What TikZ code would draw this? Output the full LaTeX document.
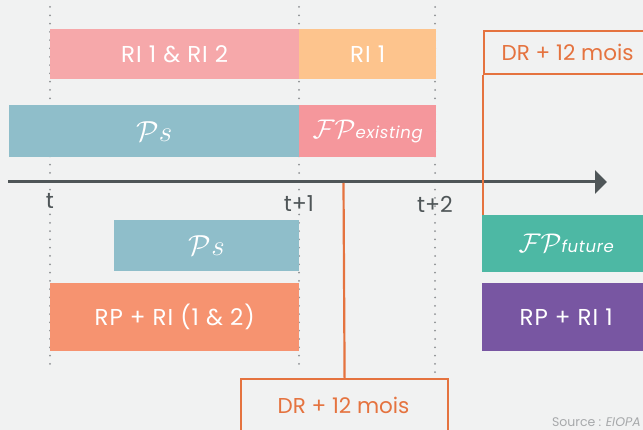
\documentclass[tikz,border=0pt]{standalone}
\usepackage{fix-cm}
\usepackage{fontspec}
\setmainfont{Poppins}
\usetikzlibrary{arrows.meta}

\definecolor{bgcol}{HTML}{F1F2F2}
\definecolor{pinkA}{HTML}{F6A8AA}
\definecolor{peach}{HTML}{FDC48D}
\definecolor{blueS}{HTML}{8FBECA}
\definecolor{pinkB}{HTML}{F5979C}
\definecolor{tealF}{HTML}{4DB8A4}
\definecolor{purpleR}{HTML}{7856A2}
\definecolor{salmon}{HTML}{F69370}
\definecolor{drcol}{HTML}{E5733F}
\definecolor{axiscol}{HTML}{4F5658}
\definecolor{dotcol}{HTML}{8E9194}
\definecolor{srccol}{HTML}{A7A9AB}

\newcommand{\barfont}{\fontsize{23}{27}\selectfont\addfontfeatures{LetterSpace=4}}
\newcommand{\drfont}{\fontsize{21.5}{25}\selectfont}

\tikzset{
  bar/.style={anchor=north west, inner sep=0pt, text=white, font=\barfont},
  drbox/.style={anchor=north west, inner sep=0pt, draw=drcol, line width=2.2pt,
    text=drcol, font=\drfont},
  drline/.style={draw=drcol, line width=2.2pt},
  guide/.style={draw=dotcol, line width=2pt, line cap=round,
    dash pattern=on 0pt off 8.3pt},
  tick/.style={text=axiscol, inner sep=0pt, font=\fontsize{22}{26}\selectfont},
  axisline/.style={draw=axiscol, line width=3pt,
    -{Triangle[length=12pt,width=23pt]}},
}

\newcommand{\calsym}[2]{{\fontsize{#1}{#1}\selectfont$\mathcal{#2}$}}
\newcommand{\psym}{{\fontsize{29}{30}\selectfont$\mathcal{P}s$}}
\newcommand{\subword}[1]{{\fontsize{16.5}{18}\selectfont\itshape #1}}

\begin{document}
\begin{tikzpicture}[x=1pt,y=-1pt]
  % canvas
  \fill[bgcol] (0,0) rectangle (643,430);
  \useasboundingbox (0,0) rectangle (643,430);
  \clip (0,0) rectangle (643,430);

  % dotted time guides
  \coordinate (g0a) at (50,7);   \coordinate (g0b) at (50,370);
  \coordinate (g1a) at (299,7);  \coordinate (g1b) at (299,372);
  \coordinate (g2a) at (435,7);  \coordinate (g2b) at (435,373);
  \draw[guide] (g0a) -- (g0b);
  \draw[guide] (g1a) -- (g1b);
  \draw[guide] (g2a) -- (g2b);

  % upper bars
  \node[bar, fill=pinkA, minimum width=249pt, minimum height=50pt] (ri12) at (50,29) {RI 1 \& RI 2};
  \node[bar, fill=peach, minimum width=137pt, minimum height=50pt] (ri1) at (299,29) {RI 1};
  \node[bar, fill=blueS, minimum width=290pt, minimum height=52pt] (ps1) at (9,105) {\psym};
  \node[bar, fill=pinkB, minimum width=137pt, minimum height=52pt] (fpex) at (299,105) {\calsym{27}{FP}\subword{existing}};

  % lower bars
  \node[bar, fill=blueS, minimum width=185pt, minimum height=51pt] (ps2) at (114,220) {\psym};
  \node[bar, fill=salmon, minimum width=249pt, minimum height=68pt] (rp12) at (50,283) {RP + RI (1 \& 2)};
  \node[bar, fill=tealF, minimum width=168pt, minimum height=57pt] (fpfut) at (482,215) {\calsym{27}{FP}\subword{future}};
  \node[bar, fill=purpleR, minimum width=168pt, minimum height=68pt] (rp1) at (482,283) {RP + RI 1};

  % time axis
  \coordinate (axstart) at (8,182);
  \coordinate (axend) at (607,182);
  \draw[axisline] (axstart) -- (axend);

  % axis ticks
  \node[tick] (t0) at (50,201) {t};
  \node[tick] (t1) at (299,204) {t+1};
  \node[tick] (t2) at (435,204) {t+2};

  % deadline boxes and their links
  \node[drbox, minimum width=167pt, minimum height=43pt] (drtop) at (483,30) {DR + 12 mois};
  \node[drbox, minimum width=207pt, minimum height=60pt] (drbot) at (240,378) {};
  \node[text=drcol, font=\drfont, inner sep=0pt] (drbottxt) at (343.5,405) {DR + 12 mois};
  \coordinate (axmark) at (343.5,183);
  \draw[drline] (axmark) -- (drbot.north);
  \draw[drline] (drtop.south west) -- (drtop.south west |- fpfut.north);

  % source note
  \node[anchor=east, text=srccol, inner sep=0pt, font=\fontsize{12.5}{15}\selectfont] (src) at (641,422) {Source : \textit{EIOPA}};
\end{tikzpicture}
\end{document}
